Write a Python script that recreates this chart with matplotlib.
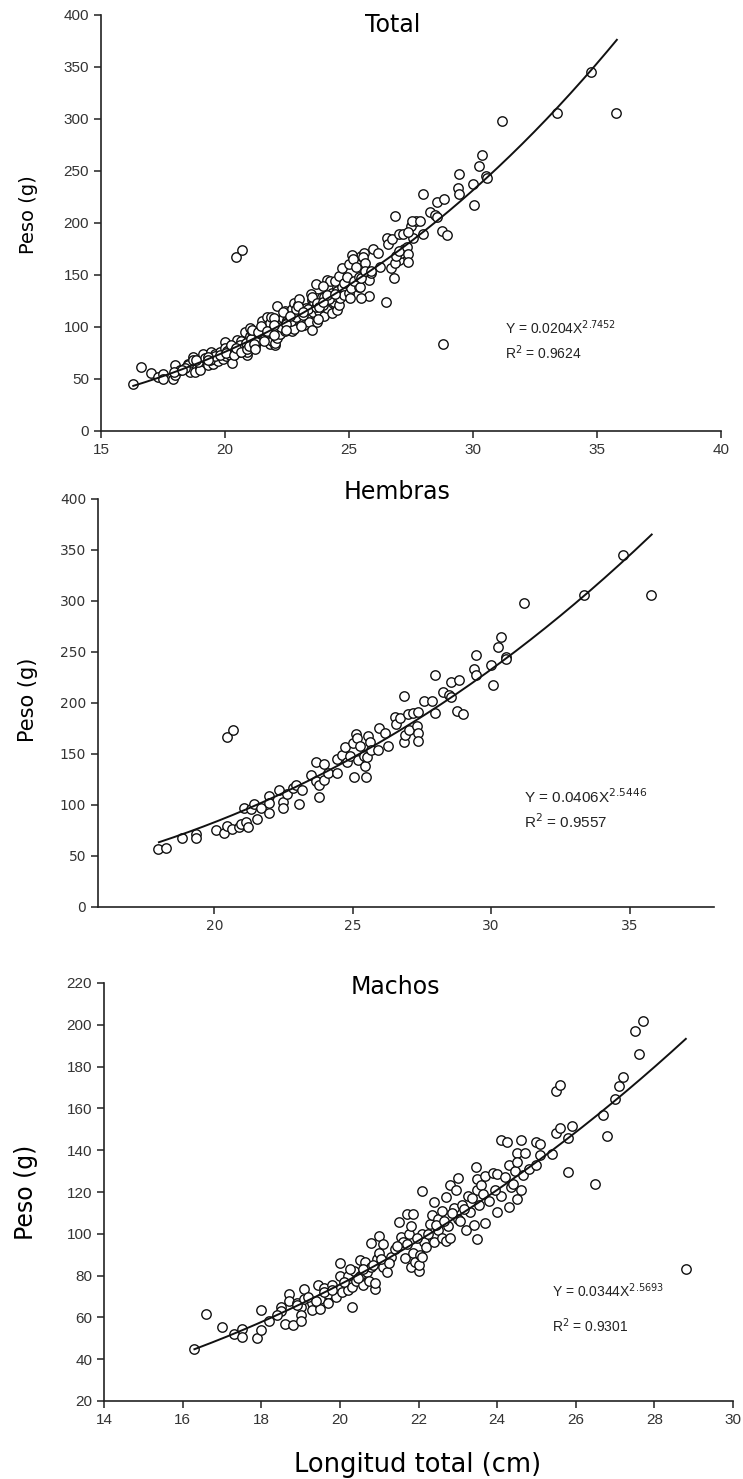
import numpy as np
import matplotlib
matplotlib.use("Agg")
import matplotlib.pyplot as plt

# ---------------- data ----------------
machos_x = [16.3, 16.6, 17.0, 17.3, 17.5, 17.5, 17.9, 18.0, 18.0, 18.2, 18.5, 18.5, 18.6, 18.7, 18.7,
            18.8, 18.9, 19.0, 19.0, 19.0, 19.1, 19.1, 19.3, 19.3, 19.45, 19.5, 19.5, 19.6, 19.7, 19.7,
            19.8, 19.9, 20.0, 20.0, 20.05, 20.2, 20.2, 20.3, 20.3, 20.35, 20.4, 20.5, 20.5, 20.6, 20.65,
            20.7, 20.75, 20.8, 20.8, 20.9, 20.9, 20.95, 21.0, 21.0, 21.1, 21.1, 21.2, 21.3, 21.4, 21.5,
            21.55, 21.6, 21.65, 21.7, 21.75, 21.8, 21.8, 21.85, 21.85, 21.9, 22.0, 22.0, 22.05, 22.1, 22.1,
            22.1, 22.15, 22.2, 22.3, 22.35, 22.4, 22.4, 22.5, 22.5, 22.6, 22.6, 22.7, 22.7, 22.75, 22.8,
            22.8, 22.9, 22.95, 23.0, 23.0, 23.05, 23.1, 23.2, 23.25, 23.3, 23.4, 23.45, 23.5, 23.5, 23.5,
            23.55, 23.6, 23.7, 23.7, 23.8, 23.9, 24.0, 24.0, 24.1, 24.1, 24.25, 24.3, 24.3, 24.35, 24.4,
            24.45, 24.5, 24.5, 24.5, 24.6, 24.6, 24.65, 24.7, 24.8, 25.0, 25.0, 25.1, 25.1, 25.4, 25.5,
            25.5, 25.6, 25.6, 25.8, 25.8, 25.9, 26.5, 26.7, 26.8, 27.0, 27.1, 27.2, 27.5, 27.6, 27.7,
            28.8,
            18.4, 18.9, 19.2, 19.4, 19.6, 19.8, 20.1, 20.25, 20.45, 20.6, 20.85, 21.05, 21.25, 21.45,
            21.7, 21.95, 22.25, 22.45, 22.65, 22.85, 23.15, 23.35, 23.65, 23.95, 24.2]
machos_y = [45, 61.5, 55.4, 52, 54.5, 50.4, 50.3, 63.4, 53.8, 58.5, 64.8, 63, 56.7, 71, 68,
            56.6, 67, 65, 61, 58.5, 69, 73.7, 66.8, 63.6, 75.6, 64, 69, 74, 71, 67,
            75.6, 69.6, 85.8, 80, 72, 80, 73, 74.7, 65, 82.4, 77.3, 87.5, 80, 75.6, 86.7,
            81.5, 77.3, 95.5, 84, 73.5, 76.4, 88, 99, 91, 84, 95, 81.5, 88.7, 92.6, 105.5,
            98.6, 96, 88.4, 109.7, 100, 84, 103.8, 109.7, 91, 86.7, 82.4, 85, 90, 120.5, 100,
            89, 96, 93.5, 104.6, 108.9, 115, 96, 102, 107, 97.8, 111, 96.4, 117.4, 103.8, 123.4,
            97.8, 112.3, 121, 126.5, 107, 106.3, 114, 102, 118, 110.6, 104.4, 132, 126, 97.4, 121,
            114, 123.4, 105, 127.7, 115.7, 129, 110.6, 128.5, 144.8, 118, 144, 132.8, 113, 122.6, 124,
            130, 138.8, 134.5, 116.6, 144.8, 121, 128, 138.8, 131, 144, 132.8, 143, 137.6, 138.3, 148,
            168.4, 171, 150.8, 145.6, 129.7, 151.6, 124, 156.8, 146.8, 164.4, 170.8, 175.2, 196.8, 185.8, 201.9,
            83.2,
            61, 66, 70, 68, 72, 73, 77, 83, 79, 83, 85, 88, 86, 94,
            95, 98, 100, 104, 106, 110, 112, 117, 119, 121, 127]

hembras_x = [17.95, 18.25, 18.83, 19.33, 19.33, 20.05, 20.35, 20.45, 20.45, 20.67, 20.65, 20.9, 20.95,
             21.08, 21.15, 21.2, 21.33, 21.45, 21.56, 21.7, 21.97, 21.97, 21.97, 22.35, 22.47, 22.47,
             22.62, 22.85, 22.96, 23.05, 23.16, 23.5, 23.66, 23.69, 23.77, 23.8, 23.96, 23.96, 24.1,
             24.45, 24.45, 24.6, 24.72, 24.78, 24.9, 25.0, 25.05, 25.13, 25.16, 25.2, 25.28, 25.4,
             25.45, 25.48, 25.5, 25.55, 25.63, 25.66, 25.9, 25.96, 26.16, 26.27, 26.54, 26.57, 26.72,
             26.84, 26.84, 26.9, 27.0, 27.03, 27.18, 27.33, 27.37, 27.37, 27.37, 27.56, 27.97, 27.97,
             27.86, 28.27, 28.47, 28.54, 28.54, 28.77, 28.85, 28.97, 29.38, 29.45, 29.45, 29.98, 30.06,
             30.26, 30.36, 30.52, 30.55, 31.17, 33.37, 34.77, 35.78]
hembras_y = [56.6, 58.3, 67.8, 71.4, 67.8, 75.3, 73, 79.5, 167, 174, 76.3, 78.6, 81.8,
             97.2, 83.5, 78.6, 95.6, 100.5, 86.7, 96.6, 108.7, 101.5, 92.6, 114.6, 102.5, 97.5,
             110.3, 116.9, 120, 100.5, 114.6, 129.3, 141.7, 123.4, 108, 119.5, 139.8, 124.4, 131,
             144.7, 131.6, 149, 156.5, 142.4, 148, 161, 127.7, 169.6, 165.3, 144, 157.8, 148.3,
             138, 127.7, 147.3, 167.6, 162, 153.8, 153.8, 175, 170.9, 157.8, 186, 179.4, 185,
             207, 162, 168.6, 189, 173.5, 189.8, 177.4, 191.5, 170.2, 162.7, 202.3, 227.5, 189.8,
             202.3, 211, 207.9, 220.3, 205.6, 192.5, 222.6, 188.9, 233.4, 247, 227.5, 237.6, 217.7,
             254.7, 265, 245.5, 243, 298.5, 305.4, 345, 306]

total_x = machos_x + hembras_x
total_y = machos_y + hembras_y

# fit parameters (a * X^b) and fitted ranges
fit_total = (0.0204, 2.7452, 16.3, 35.8)
fit_hembras = (0.0406, 2.5446, 18.0, 35.8)
fit_machos = (0.0344, 2.5693, 16.3, 28.8)

tick_col = "#333333"

plt.rcParams["font.family"] = ["DejaVu Sans"]
fig = plt.figure(figsize=(7.43, 14.79), dpi=100)

W, H = 743.0, 1479.0


def make_ax(left, right, top, bottom):
    return fig.add_axes([left / W, 1 - bottom / H, (right - left) / W, (bottom - top) / H])


def style(ax, xfont="Liberation Sans", size=11):
    for s in ("top", "right"):
        ax.spines[s].set_visible(False)
    for s in ("left", "bottom"):
        ax.spines[s].set_color("#222222")
        ax.spines[s].set_linewidth(1.2)
    ax.tick_params(direction="out", length=5, width=1.1, color="#222222",
                   labelcolor=tick_col, labelsize=size)
    for lab in ax.get_xticklabels() + ax.get_yticklabels():
        lab.set_fontfamily(xfont)


def draw(ax, xs, ys, fit):
    ax.scatter(xs, ys, s=46, facecolors="white", edgecolors="#111111", linewidths=1.0, zorder=3)
    a, b, x0, x1 = fit
    xx = np.linspace(x0, x1, 200)
    ax.plot(xx, a * xx ** b, color="#111111", lw=1.4, zorder=4)


def eq(ax, x, y, y2, a, b, r2, fs=10):
    ax.text(x, y, r"Y = %s" % a + "X$^{%s}$" % b, fontsize=fs, family="Liberation Sans",
            color="#222222", ha="left", va="center")
    ax.text(x, y2, r"R$^{2}$ = %s" % r2, fontsize=fs, family="Liberation Sans",
            color="#222222", ha="left", va="center")


def ylab(ax, x_px, y_px, size):
    fig.text(x_px / W, 1 - y_px / H, "Peso (g)", rotation=90, ha="center", va="center",
             fontsize=size)


# ---------- Total ----------
ax1 = make_ax(101, 721, 15, 431)
draw(ax1, total_x, total_y, fit_total)
ax1.set_xlim(15, 40)
ax1.set_ylim(0, 400)
ax1.set_xticks(np.arange(15, 41, 5))
ax1.set_yticks(np.arange(0, 401, 50))
style(ax1)
fig.text(393 / W, 1 - 25 / H, "Total", ha="center", va="center", fontsize=17)
ylab(ax1, 28, 215, 14)
eq(ax1, 31.3, 99, 75, "0.0204", "2.7452", "0.9624")

# ---------- Hembras ----------
ax2 = make_ax(98, 714, 499, 907)
draw(ax2, hembras_x, hembras_y, fit_hembras)
ax2.set_xlim(15.8, 38.05)
ax2.set_ylim(0, 400)
ax2.set_xticks([20, 25, 30, 35])
ax2.set_yticks(np.arange(0, 401, 50))
style(ax2, xfont="DejaVu Sans", size=10)
fig.text(397 / W, 1 - 492 / H, "Hembras", ha="center", va="center", fontsize=17)
ylab(ax2, 28, 700, 15)
eq(ax2, 31.2, 108, 84, "0.0406", "2.5446", "0.9557", fs=11)

# ---------- Machos ----------
ax3 = make_ax(104, 733, 983, 1401)
draw(ax3, machos_x, machos_y, fit_machos)
ax3.set_xlim(14, 30)
ax3.set_ylim(20, 220)
ax3.set_xticks(np.arange(14, 31, 2))
ax3.set_yticks(np.arange(20, 221, 20))
style(ax3)
fig.text(395 / W, 1 - 987 / H, "Machos", ha="center", va="center", fontsize=17)
ylab(ax3, 26, 1192, 17)
fig.text(418 / W, 1 - 1465 / H, "Longitud total (cm)", ha="center", va="center", fontsize=18.5)
eq(ax3, 25.4, 73, 56, "0.0344", "2.5693", "0.9301")

fig.savefig("out.png", dpi=100, facecolor="white")
